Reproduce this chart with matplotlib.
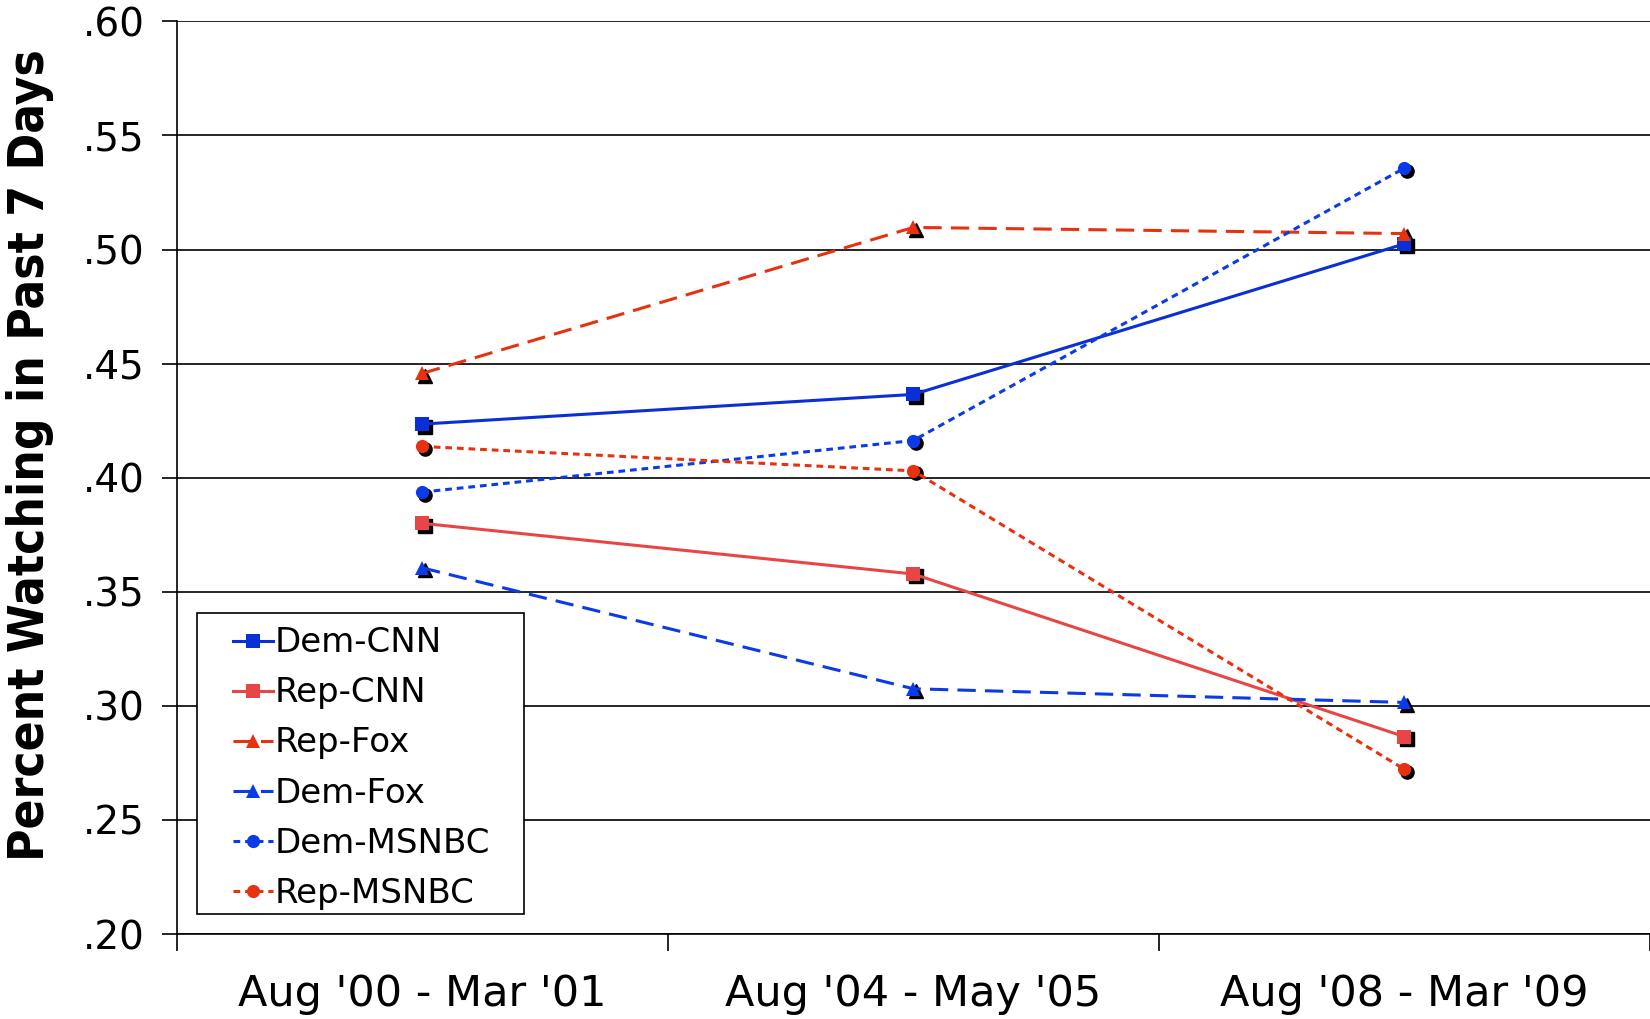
import matplotlib
matplotlib.use("Agg")
import matplotlib.pyplot as plt
import matplotlib.transforms as mtransforms
from matplotlib.patches import Rectangle
import numpy as np

periods = ["Aug '00 - Mar '01", "Aug '04 - May '05", "Aug '08 - Mar '09"]

dem_cnn = [0.4235, 0.4365, 0.5025]
rep_cnn = [0.3800, 0.3578, 0.2865]
rep_fox = [0.4457, 0.5097, 0.5070]
dem_fox = [0.3605, 0.3075, 0.3015]
dem_msnbc = [0.3937, 0.4163, 0.5357]
rep_msnbc = [0.4137, 0.4030, 0.2722]

series = [
    ("Dem-CNN", dem_cnn, "#0a2fd6", "-", "s"),
    ("Rep-CNN", rep_cnn, "#e84646", "-", "s"),
    ("Rep-Fox", rep_fox, "#e8320f", (0, (6, 3)), "^"),
    ("Dem-Fox", dem_fox, "#0b3be8", (0, (6, 3)), "^"),
    ("Dem-MSNBC", dem_msnbc, "#0b3be8", (0, (2.2, 1.6)), "o"),
    ("Rep-MSNBC", rep_msnbc, "#e8320f", (0, (2.2, 1.6)), "o"),
]

fig = plt.figure(figsize=(16.5, 10.19), dpi=100)
ax = fig.add_axes([0.107, 0.0834, 0.893, 0.8956])

x = np.arange(len(periods)) + 0.5
shadow = ax.transData + mtransforms.ScaledTranslation(2.5 / 100, -2.5 / 100, fig.dpi_scale_trans)

for name, vals, color, ls, mk in series:
    ax.plot(x, vals, linestyle="none", marker=mk, markersize=9.5, color="black",
            transform=shadow, zorder=3)
    ax.plot(x, vals, linestyle=ls, color=color, linewidth=2.2, marker=mk,
            markersize=9.5, markeredgewidth=0, label=name, zorder=4)

ax.set_xlim(0, 3)
ax.set_ylim(0.20, 0.60)
ax.set_yticks(np.arange(0.20, 0.601, 0.05))
ax.set_yticklabels([("%.2f" % v)[1:] for v in np.arange(0.20, 0.601, 0.05)])
ax.yaxis.grid(True, color="black", linewidth=1.2)
ax.set_axisbelow(True)

ax.set_xticks([0, 1, 2, 3])
ax.set_xticklabels([])
ax.set_xticks(x, minor=True)
ax.set_xticklabels(periods, minor=True)
ax.tick_params(axis="x", which="minor", length=0, labelsize=31, pad=28)
ax.tick_params(axis="x", which="major", length=12, width=1.2, direction="out")
ax.tick_params(axis="y", length=11, width=1.2, labelsize=28, pad=12)

for s in ["top", "right"]:
    ax.spines[s].set_visible(False)
ax.spines["left"].set_linewidth(1.2)
ax.spines["bottom"].set_linewidth(1.2)

ax.set_ylabel("Percent Watching in Past 7 Days", fontsize=35.5, fontweight="bold",
              fontstretch="condensed")
ax.yaxis.set_label_coords(-0.083, 0.525)

# legend frame drawn separately: wide side padding, tight top/bottom
ax.add_patch(Rectangle((0.0136, 0.022), 0.2225, 0.330, transform=ax.transAxes,
                       facecolor="white", edgecolor="black", linewidth=1.2, zorder=5))
leg = ax.legend(loc="upper left", bbox_to_anchor=(0.038, 0.337), fontsize=24.5,
                frameon=False, handlelength=1.2, handletextpad=0.05,
                labelspacing=0.5, borderpad=0, borderaxespad=0)
leg.set_zorder(6)

fig.savefig("out.png", dpi=100)
